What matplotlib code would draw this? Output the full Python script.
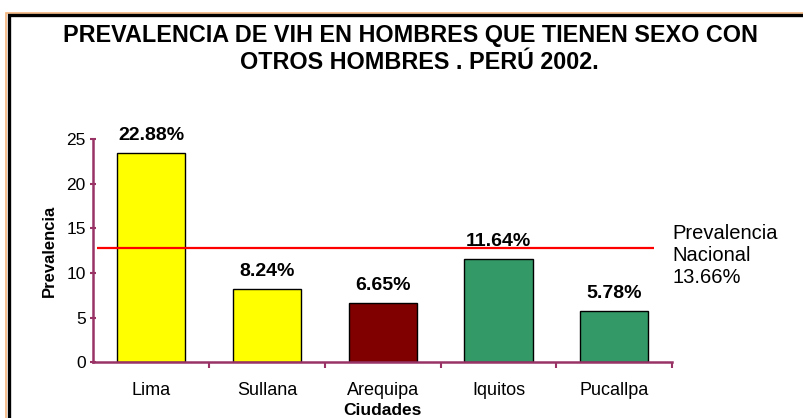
import matplotlib
matplotlib.use("Agg")
import matplotlib.pyplot as plt
from matplotlib.lines import Line2D

plt.rcParams['font.family'] = ['Liberation Sans', 'DejaVu Sans']

ciudades = ['Lima', 'Sullana', 'Arequipa', 'Iquitos', 'Pucallpa']
prevalencia = [23.4, 8.2, 6.6, 11.6, 5.78]
etiquetas = ['22.88%', '8.24%', '6.65%', '11.64%', '5.78%']
colores = ['#ffff00', '#ffff00', '#800000', '#339966', '#339966']
nacional = 12.8
nacional_txt = 'Prevalencia\nNacional\n13.66%'

axis_col = '#993366'

fig = plt.figure(figsize=(8.04, 4.18), dpi=100)
ax = fig.add_axes([0.116, 0.1333, 0.72, 0.5342])

x = range(len(ciudades))
ax.bar(x, prevalencia, width=0.59, color=colores, edgecolor='black', linewidth=1, zorder=2)
for i, (v, t) in enumerate(zip(prevalencia, etiquetas)):
    ax.annotate(t, (i, v), xytext=(0, 12.5), textcoords='offset points',
                ha='center', va='center', fontsize=14, fontweight='bold')

ax.hlines(nacional, -0.47, 4.34, color='red', linewidth=1.6, zorder=3)
ax.text(4.5, 12.0, nacional_txt, fontsize=14.5, va='center', ha='left',
        linespacing=1.2)

ax.set_xlim(-0.5, 4.5)
ax.set_ylim(0, 25)
ax.set_yticks([0, 5, 10, 15, 20, 25])
ax.set_xticks(x)
ax.set_xticklabels(ciudades)
ax.set_xticks([0.5, 1.5, 2.5, 3.5, 4.5], minor=True)
ax.tick_params(axis='x', which='major', length=0, pad=14, labelsize=13)
ax.tick_params(axis='x', which='minor', length=4, width=1.5, color=axis_col, direction='out')
ax.tick_params(axis='y', length=5, width=1.5, color=axis_col, direction='inout', labelsize=12.5, pad=3)

for s in ['top', 'right']:
    ax.spines[s].set_visible(False)
for s in ['left', 'bottom']:
    ax.spines[s].set_color(axis_col)
    ax.spines[s].set_linewidth(1.8)

ax.set_ylabel('Prevalencia', fontsize=12, fontweight='bold', labelpad=7)
ax.set_xlabel('Ciudades', fontsize=12.5, fontweight='bold', labelpad=3)

fig.text(0.511, 0.916, 'PREVALENCIA DE VIH EN HOMBRES QUE TIENEN SEXO CON',
         ha='center', va='center', fontsize=16.8, fontweight='bold')
fig.text(0.522, 0.850, 'OTROS HOMBRES . PERÚ 2002.',
         ha='center', va='center', fontsize=16.8, fontweight='bold')

# marco
W, H = 804, 418
def marco(px, py, col, lw):
    fig.add_artist(Line2D([px / W, px / W, 1.01], [-0.01, 1 - py / H, 1 - py / H],
                          transform=fig.transFigure, color=col, linewidth=lw,
                          solid_joinstyle='miter'))
marco(6.5, 12.5, '#f5b47a', 1.2)
marco(9.5, 15, 'black', 2.4)

fig.savefig('out.png', dpi=100)
